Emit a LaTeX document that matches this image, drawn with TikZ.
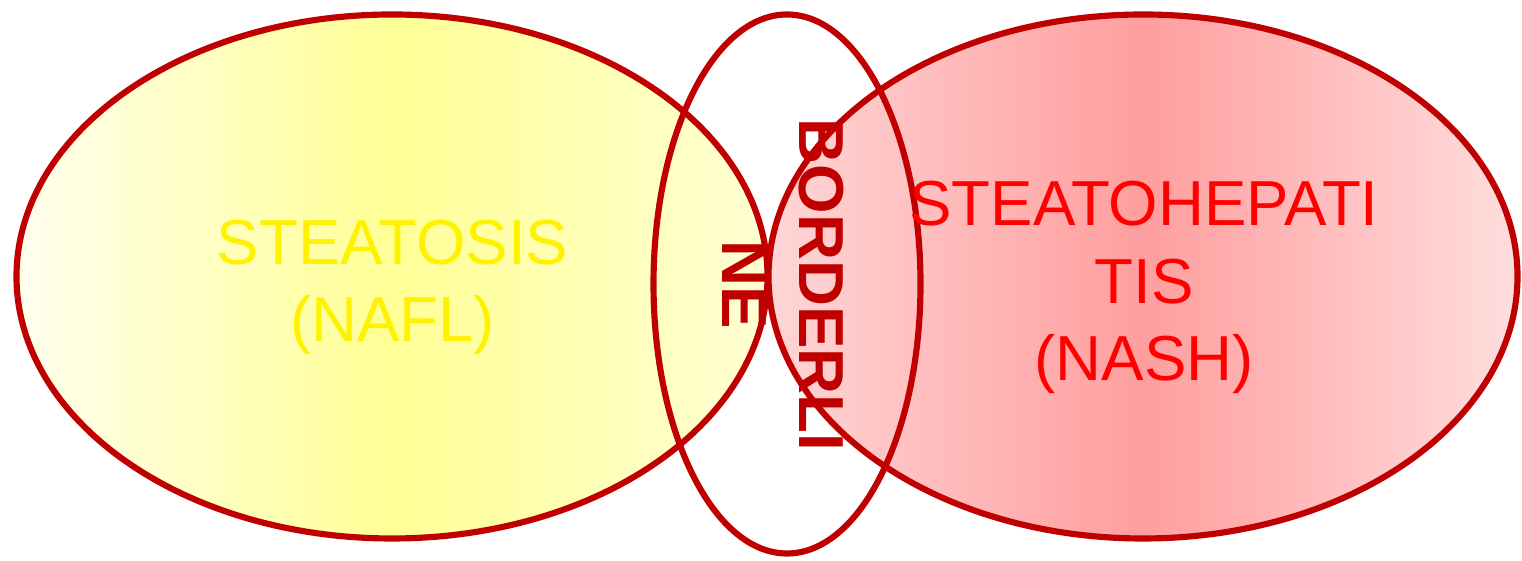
\documentclass[tikz,border=0pt]{standalone}
\usepackage{fontspec}
\setmainfont{Liberation Sans}
\usetikzlibrary{positioning}

\definecolor{borderred}{RGB}{192,0,0}
\definecolor{nafledge}{RGB}{255,255,238}
\definecolor{naflmid}{RGB}{255,255,150}
\definecolor{nafrim}{RGB}{255,255,212}
\definecolor{nashedge}{RGB}{255,214,214}
\definecolor{nashmid}{RGB}{255,158,158}
\definecolor{nashrim}{RGB}{255,222,222}

\begin{document}
\begin{tikzpicture}[
    every node/.style={font=\fontsize{18.1}{22}\selectfont, inner sep=0pt},
    % Outline of the three sets
    setline/.style={draw=borderred, line width=1.75pt},
    % Text inside a set
    settext/.style={align=center},
]

\useasboundingbox (0,0) rectangle (15.22,5.61);

% ====================================================
% SETS
% ====================================================
\path[setline, left color=nafledge, right color=nafrim, middle color=naflmid]
    (3.92,2.845) ellipse [x radius=3.755, y radius=2.62];
\path[setline, left color=nashedge, right color=nashrim, middle color=nashmid]
    (11.43,2.845) ellipse [x radius=3.745, y radius=2.62];
\path[setline] (7.87,2.77) ellipse [x radius=1.335, y radius=2.695];

% ====================================================
% LABELS
% ====================================================
\node[settext, text=yellow] (nafl) at (3.925,2.737) {STEATOSIS\\(NAFL)};
\node[settext, text=red] (nash) at (11.44,2.735) {STEATOHEPATI\\TIS\\(NASH)};
\node[settext, text=borderred, rotate=-90, font=\fontsize{18.1}{22}\selectfont\bfseries]
    (border) at (7.835,2.76) {BORDERLI\\NE};

\end{tikzpicture}
\end{document}
